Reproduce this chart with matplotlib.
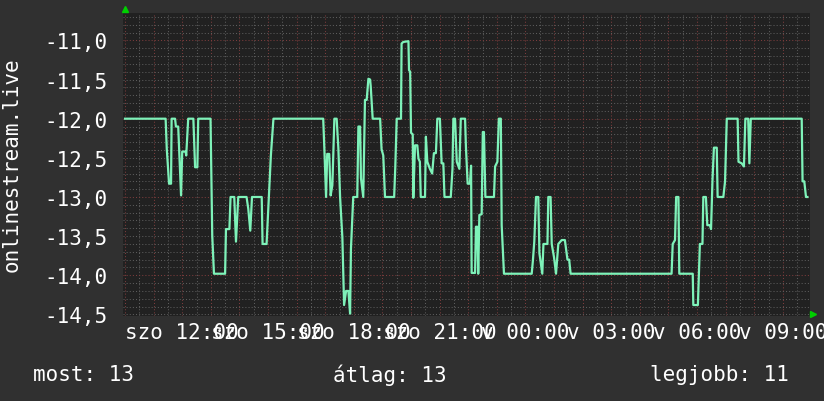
import matplotlib

matplotlib.use("Agg")
import matplotlib.pyplot as plt
import numpy as np
from matplotlib.ticker import FuncFormatter

# hours after sat 10:00, and the measured value
hours = [
    0.00, 1.42, 1.46, 1.54, 1.61, 1.63, 1.75, 1.78, 1.86, 1.90, 1.96, 2.00, 2.12, 2.14,
    2.21, 2.39, 2.45, 2.53, 2.56, 2.99, 3.05, 3.11, 3.50, 3.53, 3.65, 3.69, 3.82, 3.88,
    3.96, 4.25, 4.31, 4.38, 4.44, 4.78, 4.81, 4.95, 5.03, 5.10, 5.19, 6.93, 6.97, 7.03,
    7.07, 7.14, 7.19, 7.25, 7.32, 7.40, 7.46, 7.52, 7.60, 7.66, 7.73, 7.81, 7.87, 7.90,
    7.98, 8.12, 8.16, 8.22, 8.25, 8.33, 8.39, 8.45, 8.51, 8.57, 8.59, 8.66, 8.92, 8.97,
    9.03, 9.09, 9.41, 9.45, 9.50, 9.65, 9.67, 9.73, 9.91, 9.93, 9.97, 10.00, 10.06, 10.08,
    10.14, 10.22, 10.26, 10.31, 10.34, 10.49, 10.52, 10.57, 10.66, 10.74, 10.80, 10.87,
    10.92, 11.01, 11.07, 11.13, 11.17, 11.39, 11.45, 11.48, 11.54, 11.60, 11.69, 11.74,
    11.89, 11.92, 11.98, 12.06, 12.10, 12.12, 12.24, 12.27, 12.32, 12.35, 12.39, 12.47,
    12.51, 12.55, 12.60, 12.90, 12.94, 13.02, 13.07, 13.14, 13.17, 13.25, 14.22, 14.26,
    14.31, 14.37, 14.45, 14.49, 14.59, 14.63, 14.77, 14.80, 14.88, 14.92, 15.00, 15.07,
    15.15, 15.27, 15.38, 15.47, 15.53, 15.58, 19.11, 19.15, 19.23, 19.27, 19.35, 19.38,
    19.85, 19.87, 20.03, 20.10, 20.19, 20.22, 20.31, 20.36, 20.45, 20.49, 20.54, 20.59,
    20.69, 20.72, 20.92, 20.98, 21.04, 21.42, 21.45, 21.56, 21.64, 21.69, 21.79, 21.83,
    21.88, 23.66, 23.69, 23.75, 23.81, 23.86,
]
values = [
    -12.00, -12.00, -12.38, -12.83, -12.83, -12.00, -12.00, -12.10, -12.10, -12.46, -12.98, -12.42, -12.42, -12.47,
    -12.00, -12.00, -12.62, -12.62, -12.00, -12.00, -13.49, -13.98, -13.98, -13.41, -13.41, -13.00, -13.00, -13.57,
    -13.00, -13.00, -13.15, -13.43, -13.00, -13.00, -13.60, -13.60, -13.00, -12.47, -12.00, -12.00, -12.38, -13.00,
    -12.45, -12.45, -12.98, -12.85, -12.00, -12.00, -12.38, -13.00, -13.52, -14.38, -14.20, -14.20, -14.49, -13.66,
    -13.00, -13.00, -12.10, -12.10, -12.76, -13.00, -11.76, -11.76, -11.49, -11.50, -11.58, -12.00, -12.00, -12.39,
    -12.47, -13.00, -13.00, -12.62, -12.00, -12.00, -11.04, -11.02, -11.01, -11.38, -11.40, -12.18, -12.20, -13.01,
    -12.34, -12.34, -12.51, -12.55, -13.00, -13.00, -12.23, -12.55, -12.64, -12.70, -12.44, -12.44,
    -12.00, -12.00, -12.57, -12.57, -13.00, -13.00, -12.64, -12.00, -12.00, -12.55, -12.64, -12.00,
    -12.00, -12.36, -12.83, -12.83, -12.60, -13.97, -13.97, -13.38, -13.38, -13.98, -13.23, -13.22,
    -12.17, -12.17, -13.00, -13.00, -12.61, -12.55, -12.00, -12.00, -13.36, -13.98, -13.98, -13.82,
    -13.57, -13.00, -13.00, -13.72, -13.98, -13.60, -13.60, -13.00, -13.00, -13.60, -13.77, -13.98,
    -13.60, -13.55, -13.55, -13.80, -13.80, -13.98, -13.98, -13.60, -13.55, -13.00, -13.00, -13.98,
    -13.98, -14.38, -14.38, -13.60, -13.60, -13.00, -13.00, -13.36, -13.36, -13.41, -12.79, -12.37,
    -12.37, -13.00, -13.00, -12.80, -12.00, -12.00, -12.55, -12.57, -12.61, -12.00, -12.00, -12.57,
    -12.00, -12.00, -12.80, -12.80, -13.00, -13.00,
]

x_tick_hours = [2, 5, 8, 11, 14, 17, 20, 23]
x_tick_labels = ["szo 12:00", "szo 15:00", "szo 18:00", "szo 21:00",
                 "v 00:00", "v 03:00", "v 06:00", "v 09:00"]
y_ticks = [-11.0, -11.5, -12.0, -12.5, -13.0, -13.5, -14.0, -14.5]
y_label = "onlinestream.live"
legend_names = ["most", "átlag", "legjobb"]
legend_values = [13, 13, 11]

BACK = "#303030"
CANVAS = "#212121"
LINE = "#7ef2b9"
MINOR = "#5c5c5c"
MAJOR = "#7c3c3c"
ARROW = "#00d000"
FONT_SIZE = 15

plt.rcParams["font.family"] = ["DejaVu Sans Mono", "DejaVu Sans"]

fig = plt.figure(figsize=(8.24, 4.02), dpi=100, facecolor=BACK)
ax = fig.add_axes([123 / 824, 85 / 402, 687 / 824, 303 / 402], facecolor=CANVAS)
ax.set_xlim(-0.07, 23.95)
ax.set_ylim(-14.52, -10.65)

# dotted rrdtool-style grid
dots = (0, (1, 2))
for h in np.arange(0, 24, 0.5):
    ax.axvline(h, color=MAJOR if h % 1 == 0 else MINOR, lw=0.75, ls=dots, zorder=1)
for v in np.arange(-14.5, -10.6, 0.1):
    v = round(v, 1)
    ax.axhline(v, color=MAJOR if v % 1 == 0 else MINOR, lw=0.75, ls=dots, zorder=1)

ax.plot(hours, values, color=LINE, lw=1.6, zorder=3)

ax.set_xticks(x_tick_hours, x_tick_labels)
ax.set_yticks(y_ticks)
ax.yaxis.set_major_formatter(FuncFormatter(lambda v, _: f"{v:.1f}".replace(".", ",")))
ax.tick_params(length=0, colors="white", labelsize=FONT_SIZE)
ax.tick_params(axis="x", pad=4)
ax.tick_params(axis="y", pad=11)
for side in ax.spines.values():
    side.set_visible(False)

ax.plot([0.003], [1.013], marker="^", color=ARROW, ms=5, transform=ax.transAxes, clip_on=False)
ax.plot([1.004], [0.007], marker=">", color=ARROW, ms=5, transform=ax.transAxes, clip_on=False)

fig.text(12 / 824, 1 - 165 / 402, y_label, rotation=90, ha="center", va="center",
         color="white", fontsize=FONT_SIZE)

legend_x = [33 / 824, 333 / 824, 650 / 824]
for x, name, val in zip(legend_x, legend_names, legend_values):
    fig.text(x, 1 - 375 / 402, f"{name}: {val}", ha="left", va="center",
             color="white", fontsize=FONT_SIZE)

fig.savefig("out.png", dpi=100, facecolor=BACK)
